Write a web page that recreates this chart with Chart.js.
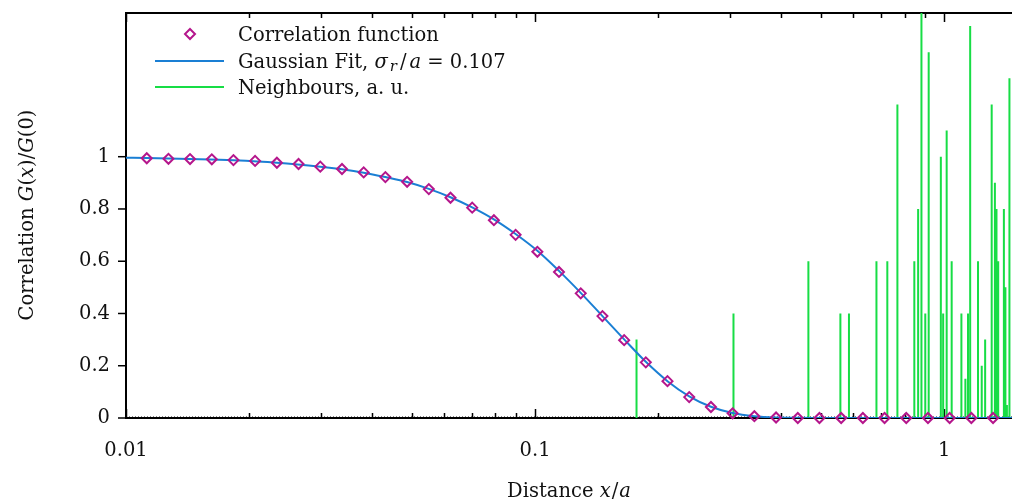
<!DOCTYPE html>
<html>
<head>
<meta charset="utf-8">
<script src="https://cdn.jsdelivr.net/npm/chart.js@4/dist/chart.umd.min.js"></script>
<style>
  html, body { margin: 0; padding: 0; background: #fff; }
  canvas { display: block; }
</style>
</head>
<body>
<canvas id="corrChart" width="1012" height="504"></canvas>
<script>
// correlation function samples (x/a, G(x)/G(0))
var corrX = [0.01124, 0.01270, 0.01434, 0.01621, 0.01831, 0.02068, 0.02338, 0.02641, 0.02985, 0.03373,
  0.03811, 0.04306, 0.04866, 0.05498, 0.06212, 0.07019, 0.07931, 0.08961, 0.1013, 0.1144,
  0.1293, 0.1461, 0.1651, 0.1865, 0.2107, 0.2381, 0.2691, 0.3040, 0.3436, 0.3882,
  0.4387, 0.4956, 0.5601, 0.6328, 0.7150, 0.8079, 0.9129, 1.0314, 1.1655, 1.3168]
var corrY = [0.994, 0.992, 0.991, 0.990, 0.987, 0.984, 0.977, 0.972, 0.962, 0.953,
  0.940, 0.922, 0.904, 0.876, 0.843, 0.805, 0.757, 0.701, 0.636, 0.559,
  0.477, 0.390, 0.298, 0.213, 0.141, 0.080, 0.042, 0.018, 0.007, 0.002,
  0, 0, 0, 0, 0, 0, 0, 0, 0, 0]

// gaussian fit curve
var fitX = [0.01, 0.01124, 0.01434, 0.01831, 0.02338, 0.02985, 0.03373, 0.03811, 0.04306, 0.04866,
  0.05498, 0.06212, 0.07019, 0.07931, 0.08961, 0.1013, 0.1144, 0.1293, 0.1461, 0.1651,
  0.1865, 0.2107, 0.2381, 0.2691, 0.3040, 0.3436, 0.3882, 0.4387, 0.4956, 0.5601, 0.8079, 1.465]
var fitY = [0.996, 0.995, 0.991, 0.986, 0.977, 0.962, 0.952, 0.939, 0.922, 0.903,
  0.877, 0.845, 0.806, 0.760, 0.704, 0.640, 0.563, 0.479, 0.390, 0.301,
  0.215, 0.141, 0.083, 0.043, 0.019, 0.007, 0.002, 0.0005, 0.0001, 0, 0, 0]

// neighbour distances, arbitrary units
var neighbourX = [0.1770, 0.3055, 0.4657, 0.5576, 0.5852, 0.6831, 0.7262, 0.7686, 0.8454, 0.8637,
  0.8800, 0.8992, 0.9166, 0.9815, 0.9944, 1.0142, 1.0432, 1.1019, 1.1269, 1.1435,
  1.1577, 1.2099, 1.2355, 1.2595, 1.3067, 1.3305, 1.3425, 1.3555, 1.3996, 1.4116,
  1.4236, 1.4440]
var neighbourH = [0.3, 0.4, 0.6, 0.4, 0.4, 0.6, 0.6, 1.2, 0.6, 0.8,
  1.6, 0.4, 1.4, 1.0, 0.4, 1.1, 0.6, 0.4, 0.15, 0.4,
  1.5, 0.6, 0.2, 0.3, 1.2, 0.9, 0.8, 0.6, 0.8, 0.5,
  0.05, 1.3]

var xMajorTicks = [0.01, 0.1, 1]
var xTickLabels = ['0.01', '0.1', '1']
var xMinorTicks = [0.02, 0.03, 0.04, 0.05, 0.06, 0.07, 0.08, 0.09, 0.2, 0.3, 0.4, 0.5, 0.6, 0.7, 0.8, 0.9]
var yTicks = [0, 0.2, 0.4, 0.6, 0.8, 1]
var yTickLabels = ['0', '0.2', '0.4', '0.6', '0.8', '1']

var FONT = '"DejaVu Serif", serif'
var SIZE = 19.5

let neighbourPts = []
neighbourX.forEach((x, i) => {
	neighbourPts.push({x: x, y: 0})
	neighbourPts.push({x: x, y: neighbourH[i]})
	neighbourPts.push({x: x, y: null})
})

function fnt(style, size) {
	return (style || '') + ' ' + (size || SIZE) + 'px ' + FONT
}

// draws text made of several styled pieces
function richText(ctx, parts, x, y, align) {
	let w = 0
	parts.forEach(p => { ctx.font = p.f; w += ctx.measureText(p.t).width + (p.gap || 0) })
	let cx = align == 'center' ? x - w/2 : x
	ctx.textAlign = 'left'
	ctx.textBaseline = 'alphabetic'
	parts.forEach(p => {
		ctx.font = p.f
		ctx.fillText(p.t, cx, y + (p.dy || 0))
		cx += ctx.measureText(p.t).width + (p.gap || 0)
	})
}

const framePlugin = {
	id: 'frame',
	afterLayout(chart) {
		// plot area runs to the right edge of the canvas
		chart.chartArea.right = chart.width
		chart.scales.x.right = chart.width
		chart.scales.x.width = chart.width - chart.scales.x.left
		chart.scales.x.configure()
	},
	beforeDatasetsDraw(chart) {
		const ctx = chart.ctx, a = chart.chartArea
		const xs = chart.scales.x, ys = chart.scales.y
		const y0 = ys.getPixelForValue(0)
		ctx.save()
		// zero axis, dotted
		ctx.strokeStyle = '#888'
		ctx.lineWidth = 1
		ctx.setLineDash([1, 2])
		ctx.beginPath(); ctx.moveTo(a.left, y0 - 1.5); ctx.lineTo(a.right, y0 - 1.5); ctx.stroke()
		ctx.setLineDash([])
		// border
		ctx.strokeStyle = '#000'
		ctx.lineWidth = 2
		ctx.beginPath()
		ctx.moveTo(a.right, a.top); ctx.lineTo(a.left, a.top); ctx.lineTo(a.left, a.bottom); ctx.lineTo(a.right, a.bottom)
		ctx.stroke()
		// x ticks, inward on bottom and top
		ctx.lineWidth = 1.5
		const tick = (v, len) => {
			let px = Math.round(xs.getPixelForValue(v)) + 0.5
			ctx.beginPath()
			ctx.moveTo(px, a.bottom); ctx.lineTo(px, a.bottom - len)
			ctx.moveTo(px, a.top); ctx.lineTo(px, a.top + len)
			ctx.stroke()
		}
		xMajorTicks.forEach(v => tick(v, 9))
		xMinorTicks.forEach(v => tick(v, 5))
		// y ticks, outward
		yTicks.forEach(v => {
			let py = ys.getPixelForValue(v)
			ctx.beginPath(); ctx.moveTo(a.left, py); ctx.lineTo(a.left - 8, py); ctx.stroke()
		})
		// tick labels
		ctx.fillStyle = '#111'
		ctx.font = fnt('', SIZE)
		ctx.textBaseline = 'middle'
		ctx.textAlign = 'center'
		xMajorTicks.forEach((v, i) => ctx.fillText(xTickLabels[i], xs.getPixelForValue(v), 451))
		ctx.textAlign = 'right'
		yTicks.forEach((v, i) => ctx.fillText(yTickLabels[i], 110, ys.getPixelForValue(v)))
		// axis titles
		const n = fnt('', SIZE), it = fnt('italic', SIZE)
		richText(ctx, [{t: 'Distance ', f: n}, {t: 'x', f: it, gap: 1}, {t: '/', f: n, gap: 1}, {t: 'a', f: it}], 569, 497, 'center')
		ctx.translate(33, 215)
		ctx.rotate(-Math.PI/2)
		richText(ctx, [{t: 'Correlation ', f: n}, {t: 'G', f: it}, {t: '(', f: n}, {t: 'x', f: it}, {t: ')/', f: n},
			{t: 'G', f: it}, {t: '(0)', f: n}], 0, 0, 'center')
		ctx.restore()
	},
	afterDatasetsDraw(chart) {
		const ctx = chart.ctx
		const n = fnt('', SIZE), it = fnt('italic', SIZE)
		ctx.save()
		// legend
		ctx.strokeStyle = '#b5168c'
		ctx.lineWidth = 2
		ctx.beginPath()
		ctx.moveTo(190, 29); ctx.lineTo(195, 34); ctx.lineTo(190, 39); ctx.lineTo(185, 34); ctx.closePath()
		ctx.stroke()
		ctx.strokeStyle = '#1a7fd4'
		ctx.beginPath(); ctx.moveTo(155, 61); ctx.lineTo(224, 61); ctx.stroke()
		ctx.strokeStyle = '#17dd45'
		ctx.beginPath(); ctx.moveTo(155, 87); ctx.lineTo(224, 87); ctx.stroke()
		ctx.fillStyle = '#111'
		richText(ctx, [{t: 'Correlation function', f: n}], 238, 41)
		richText(ctx, [{t: 'Gaussian Fit, ', f: n}, {t: 'σ', f: it, gap: 2}, {t: 'r', f: fnt('italic', 15), dy: 3, gap: 3},
			{t: '/', f: n, gap: 3}, {t: 'a', f: it}, {t: ' = 0.107', f: n}], 238, 68)
		richText(ctx, [{t: 'Neighbours, a. u.', f: n}], 238, 94)
		ctx.restore()
	}
}

new Chart(document.getElementById('corrChart'), {
	type: 'line',
	data: {
		datasets: [{
			label: 'Correlation function',
			data: corrX.map((x, i) => ({x: x, y: corrY[i]})),
			showLine: false,
			pointStyle: 'rectRot',
			pointRadius: 5,
			pointBorderWidth: 2,
			pointBorderColor: '#b5168c',
			pointBackgroundColor: 'rgba(0,0,0,0)',
			clip: false,
			order: 0
		}, {
			label: 'Gaussian Fit',
			data: fitX.map((x, i) => ({x: x, y: fitY[i]})),
			borderColor: '#1a7fd4',
			borderWidth: 2,
			pointRadius: 0,
			cubicInterpolationMode: 'monotone',
			order: 1
		}, {
			label: 'Neighbours, a. u.',
			data: neighbourPts,
			borderColor: '#17dd45',
			borderWidth: 2,
			pointRadius: 0,
			spanGaps: false,
			order: 2
		}]
	},
	options: {
		responsive: false,
		animation: false,
		devicePixelRatio: 1,
		layout: { padding: { left: 126, top: 13, right: 0, bottom: 86 } },
		scales: {
			x: { type: 'logarithmic', min: 0.01, max: 1.465, display: false },
			y: { type: 'linear', min: 0, max: 1.55, display: false }
		},
		plugins: {
			legend: { display: false },
			tooltip: { enabled: false }
		}
	},
	plugins: [framePlugin]
})
</script>
</body>
</html>
